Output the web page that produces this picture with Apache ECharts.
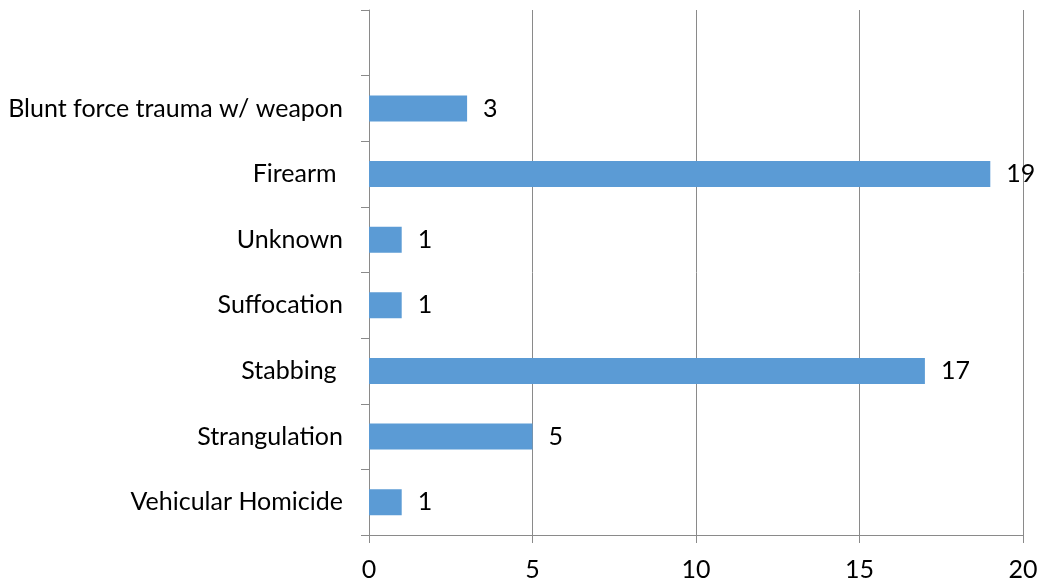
<!DOCTYPE html>
<html>
<head>
<meta charset="utf-8">
<script src="https://cdn.jsdelivr.net/npm/echarts@6/dist/echarts.min.js"></script>
<style>
	html, body { margin: 0; padding: 0; background: #fff; }
	#chart { width: 1045px; height: 585px; }
</style>
</head>
<body>
<div id="chart"></div>
<script>
// categories, bottom to top (top slot is empty)
var categories = ['Vehicular Homicide', 'Strangulation', 'Stabbing ', 'Suffocation', 'Unknown', 'Firearm ', 'Blunt force trauma w/ weapon', ''];
var counts = [1, 5, 17, 1, 1, 19, 3, null];
var xTicks = [0, 5, 10, 15, 20];

var myChart = echarts.init(document.getElementById('chart'));
var font = 'Lato, "Open Sans", sans-serif';
var option = {
	animation : false,
	grid : {
		left : 369,
		right : 22,
		top : 10,
		bottom : 50
	},
	xAxis : {
		type : 'value',
		min : xTicks[0],
		max : xTicks[xTicks.length - 1],
		interval : 5,
		axisLine : {
			show : true,
			lineStyle : { color : '#8a8a8a', width : 1 }
		},
		axisTick : {
			show : true,
			length : 8,
			lineStyle : { color : '#8a8a8a' }
		},
		splitLine : {
			show : true,
			lineStyle : { color : '#8a8a8a', width : 1 }
		},
		axisLabel : {
			color : '#000',
			fontSize : 25,
			fontFamily : font,
			margin : 22
		}
	},
	yAxis : {
		type : 'category',
		data : categories,
		axisLine : {
			show : true,
			lineStyle : { color : '#8a8a8a', width : 1 }
		},
		axisTick : {
			show : true,
			length : 8,
			lineStyle : { color : '#8a8a8a' }
		},
		axisLabel : {
			color : '#000',
			fontSize : 25,
			fontFamily : font,
			margin : 26
		}
	},
	series : [ {
		type : 'bar',
		data : counts,
		barWidth : 26,
		itemStyle : { color : '#5B9BD5' },
		label : {
			show : true,
			position : 'right',
			distance : 16,
			color : '#000',
			fontSize : 25,
			fontFamily : font
		}
	} ]
};
myChart.setOption(option);
</script>
</body>
</html>
